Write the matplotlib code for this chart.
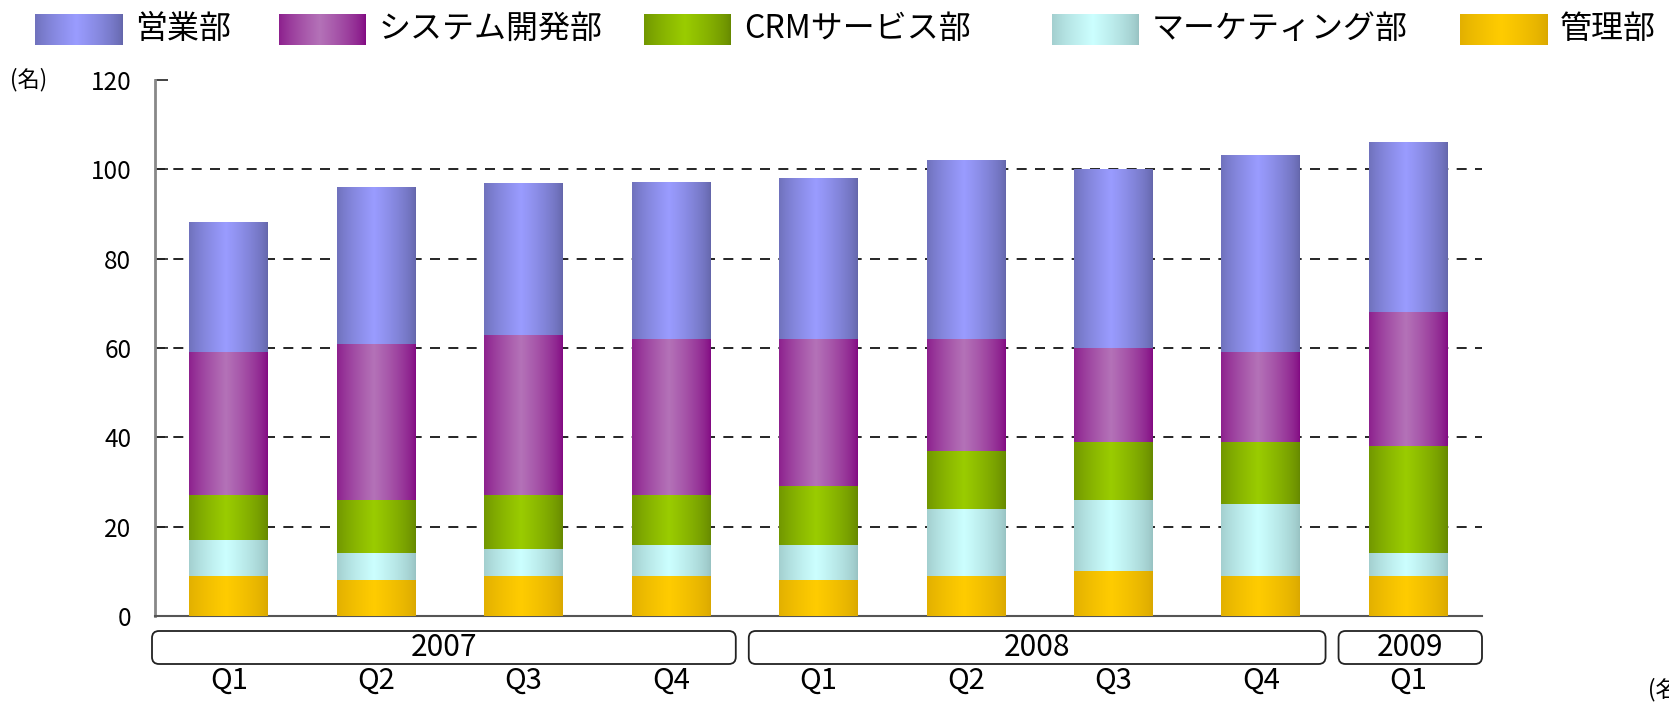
import numpy as np
import matplotlib
matplotlib.use('Agg')
import matplotlib.pyplot as plt
from matplotlib.colors import to_rgb
from matplotlib.patches import FancyBboxPatch
from matplotlib.transforms import blended_transform_factory

plt.rcParams['font.family'] = ['Noto Sans CJK JP', 'DejaVu Sans']

W, H = 1669, 703

# data
quarters = ['Q1', 'Q2', 'Q3', 'Q4', 'Q1', 'Q2', 'Q3', 'Q4', 'Q1']
years = ['2007', '2008', '2009']
year_spans = [(0, 3), (4, 7), (8, 8)]
depts = ['営業部', 'システム開発部', 'CRMサービス部', 'マーケティング部', '管理部']
kanri = [9, 8, 9, 9, 8, 9, 10, 9, 9]
marketing = [8, 6, 6, 7, 8, 15, 16, 16, 5]
crm = [10, 12, 12, 11, 13, 13, 13, 14, 24]
system_dev = [32, 35, 36, 35, 33, 25, 21, 20, 30]
eigyo = [29, 35, 34, 35, 36, 40, 40, 44, 38]

# (edge colour, centre colour) for the cylinder-like gradient
grad_colors = {
    '営業部': ('#6466AA', '#9A9CFF'),
    'システム開発部': ('#820A82', '#B472B8'),
    'CRMサービス部': ('#668800', '#9ACC00'),
    'マーケティング部': ('#98C2C2', '#CCFFFF'),
    '管理部': ('#DAA800', '#FFCC00'),
}


def gradient(edge, center, n=96):
    t = np.linspace(0, 1, n)
    w = np.clip(1 - np.abs(t - 0.47) / 0.53, 0, 1) ** 0.7
    e = np.array(to_rgb(edge))
    c = np.array(to_rgb(center))
    img = e[None, :] + (c - e)[None, :] * w[:, None]
    return img[None, :, :]


fig = plt.figure(figsize=(W / 100, H / 100), dpi=100)
ax = fig.add_axes([155 / W, 1 - 616 / H, (1482 - 155) / W, (616 - 80) / H])

x = np.arange(len(quarters))
stack = [('管理部', kanri), ('マーケティング部', marketing), ('CRMサービス部', crm),
         ('システム開発部', system_dev), ('営業部', eigyo)]
bottom = np.zeros(len(quarters))
for name, vals in stack:
    bars = ax.bar(x, vals, bottom=bottom, width=0.535, color='none', edgecolor='none', zorder=3)
    img = gradient(*grad_colors[name])
    for r in bars:
        x0, y0 = r.get_x(), r.get_y()
        ax.imshow(img, extent=[x0, x0 + r.get_width(), y0, y0 + r.get_height()],
                  aspect='auto', interpolation='bicubic', zorder=3)
    bottom += np.array(vals)

ax.set_xlim(-0.5, len(quarters) - 0.5)
ax.set_ylim(0, 120)
ax.set_yticks(range(0, 121, 20))
ax.set_xticks([])
ax.set_axisbelow(True)
ax.yaxis.grid(True, linestyle=(0, (6, 5)), color='black', lw=1.2)
ax.get_ygridlines()[-1].set_visible(False)
ax.get_ygridlines()[0].set_visible(False)
ax.tick_params(axis='y', direction='in', length=9, width=1.2, color='#222222',
               labelsize=17.5, pad=17)
for s in ['top', 'right']:
    ax.spines[s].set_visible(False)
ax.spines['left'].set_color('#888888')
ax.spines['left'].set_linewidth(2)
ax.spines['bottom'].set_color('#555555')
ax.spines['bottom'].set_linewidth(1.5)

# quarter labels
tr = blended_transform_factory(ax.transData, ax.transAxes)
for i, q in enumerate(quarters):
    ax.text(i, -(681 - 616) / 536, q, transform=tr, ha='center', va='center',
            fontsize=21, clip_on=False)

# overlay in pixel coordinates for legend and year boxes
ov = fig.add_axes([0, 0, 1, 1], zorder=5)
ov.set_xlim(0, W)
ov.set_ylim(H, 0)
ov.axis('off')


def to_px(xd):
    return ax.transData.transform((xd, 0))[0]


for (s, e), yr in zip(year_spans, years):
    x0 = to_px(s - 0.5) + (-3 if s == 0 else 4)
    x1 = to_px(e + 0.5) - (0 if e == len(quarters) - 1 else 9)
    box = FancyBboxPatch((x0, 631), x1 - x0, 33, boxstyle='round,pad=0,rounding_size=7',
                         fc='white', ec='#222222', lw=1.3)
    ov.add_patch(box)
    ov.text((x0 + x1) / 2, 648, yr, ha='center', va='center', fontsize=21.5)

# legend
leg_patch_x = [35, 279, 644, 1052, 1460]
for name, lx in zip(depts, leg_patch_x):
    ov.imshow(gradient(*grad_colors[name]), extent=[lx, lx + 87, 45, 14],
              aspect='auto', interpolation='bicubic')
    ov.text(lx + 100, 29, name, ha='left', va='center', fontsize=23)
ov.set_xlim(0, W)
ov.set_ylim(H, 0)

ov.text(10, 80, '(名)', ha='left', va='center', fontsize=16)
ov.text(1648, 690, '(名)', ha='left', va='center', fontsize=16)

fig.savefig('out.png', dpi=100)
